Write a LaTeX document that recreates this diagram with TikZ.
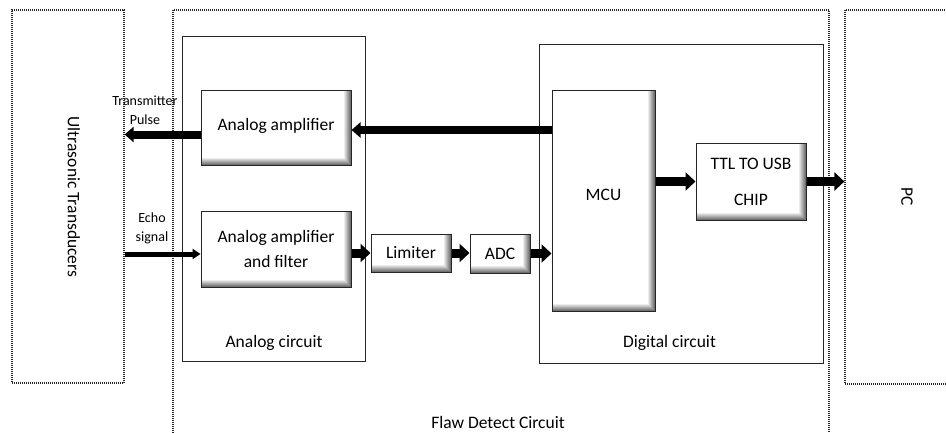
\documentclass[tikz,border=0pt]{standalone}
\usepackage{fontspec}
\setmainfont{Carlito}
\usetikzlibrary{arrows.meta}
\begin{document}
\begin{tikzpicture}[x=1pt,y=-1pt,
  dotbox/.style={draw=black!85, line width=1.2pt, dash pattern=on 1pt off 1pt, rectangle, inner sep=0pt},
  group/.style={draw=black!85, line width=1pt, rectangle, inner sep=0pt},
  blk/.style={draw=black!85, line width=1pt, fill=white, rectangle, inner sep=0pt,
    font=\fontsize{17.5}{21}\selectfont, align=center,
    path picture={
      \foreach \d [evaluate=\d as \c using int(8*(7-\d))] in {0,...,6}{
        \fill[black!\c] ([yshift=\d pt]path picture bounding box.south west)
          rectangle ([yshift=\d pt+1pt]path picture bounding box.south east);
      }
      \foreach \d [evaluate=\d as \c using int(8*(7-\d))] in {0,...,6}{
        \fill[black!\c] ([xshift=-\d pt]path picture bounding box.north east)
          rectangle ([xshift=-\d pt-1pt, yshift=\d pt]path picture bounding box.south east);
      }
    }},
  lbl/.style={font=\fontsize{17.5}{21}\selectfont, inner sep=0pt},
  sml/.style={font=\fontsize{14}{17}\selectfont, align=center, inner sep=0pt},
  bigarr/.style={line width=9pt, -{Triangle[width=18pt,length=10pt]}},
  longarr/.style={line width=8pt, -{Triangle[width=15pt,length=9pt]}},
  thinarr/.style={line width=5pt, -{Triangle[width=10pt,length=8pt]}},
]
\useasboundingbox (0,0) rectangle (946,432);
\clip (0,0) rectangle (946,432);
\fill[white] (0,0) rectangle (946,432);

% dotted outer boxes
\node[dotbox, minimum width=112, minimum height=373] (ut) at (68,196.5) {};
\node[dotbox, minimum width=656, minimum height=450] (fd) at (501,235) {};
\node[dotbox, minimum width=130, minimum height=374] (pc) at (910,197) {};
\node[lbl, rotate=-90] (utt) at (74,197) {Ultrasonic Transducers};
\node[lbl, rotate=-90] (pct) at (907,197) {PC};
\node[lbl] (fdt) at (498,422) {Flaw Detect Circuit};

% group boxes
\node[group, minimum width=183, minimum height=325] (ac) at (273.5,198.5) {};
\node[group, minimum width=284, minimum height=319] (dc) at (681,203.5) {};
\node[lbl] (act) at (274,343) {Analog circuit};
\node[lbl] (dct) at (669.5,343) {Digital circuit};

% blocks
\node[blk, minimum width=150, minimum height=75] (aa) at (276,127.5) {\raisebox{6pt}{Analog amplifier}};
\node[blk, minimum width=150, minimum height=76] (aaf) at (276,249) {Analog amplifier\\[4pt]and filter};
\node[blk, minimum width=80, minimum height=38] (lim) at (411,253) {Limiter};
\node[blk, minimum width=60, minimum height=39] (adc) at (500,253.5) {ADC};
\node[blk, minimum width=103, minimum height=221] (mcu) at (603.5,200.5) {\raisebox{12pt}{MCU}};
\node[blk, minimum width=110, minimum height=77] (ttl) at (751,181.5) {TTL TO USB\\[15pt]CHIP};

% side labels
\node[sml] (tp) at (145,110) {Transmitter\\[2pt]Pulse};
\node[sml] (es) at (152,228) {Echo\\[2pt]signal};

% connectors
\coordinate (a0) at ([yshift=-2.5pt]aa.east);
\draw[longarr] (a0 -| mcu.west) -- (a0);
\coordinate (a1) at ([yshift=-7pt]aa.west);
\draw[longarr] (a1) -- (a1 -| ut.east);
\coordinate (e1) at ([yshift=-5pt]aaf.west);
\draw[thinarr] (e1 -| ut.east) -- (e1);
\draw[bigarr] (aaf.east |- lim) -- (lim.west);
\draw[bigarr] (lim.east) -- (lim.east -| adc.west);
\draw[bigarr] (adc.east) -- (adc.east -| mcu.west);
\draw[bigarr] (mcu.east |- ttl) -- (ttl.west);
\draw[bigarr] (ttl.east) -- (ttl.east -| pc.west);
\end{tikzpicture}
\end{document}
